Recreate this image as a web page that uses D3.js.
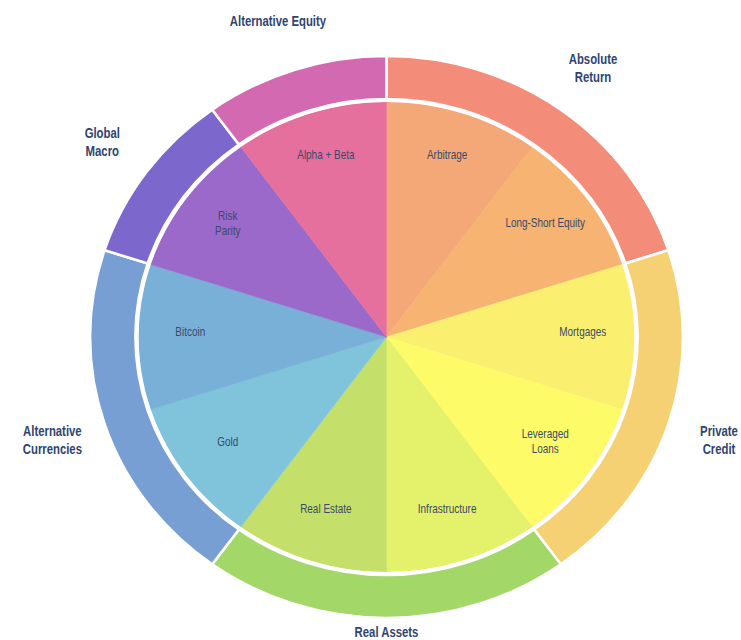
<!DOCTYPE html>
<html>
<head>
<meta charset="utf-8">
<script src="https://cdn.jsdelivr.net/npm/d3@7"></script>
<style>
  body { margin: 0; background: #fff; }
</style>
</head>
<body>
<div class="chart"></div>
<script>
// inner ring, clockwise from 12 o'clock
const strategies = ["Arbitrage", "Long-Short Equity", "Mortgages", "Leveraged\nLoans", "Infrastructure",
  "Real Estate", "Gold", "Bitcoin", "Risk\nParity", "Alpha + Beta"];
const strategyGroup = ["Absolute Return", "Absolute Return", "Private Credit", "Private Credit", "Real Assets",
  "Real Assets", "Alternative Currencies", "Alternative Currencies", "Global Macro", "Alternative Equity"];
const strategyWeights = [1, 1, 1, 1, 1, 1, 1, 1, 1, 1];
const strategyColors = ["#f4a878", "#f6b371", "#fbef6f", "#fdfc68", "#e4f16a",
  "#c5e06a", "#80c4dc", "#79b0d7", "#9a69c9", "#e5709d"];

// outer ring
const groups = ["Absolute Return", "Private Credit", "Real Assets", "Alternative Currencies", "Global Macro", "Alternative Equity"];
const groupLabels = ["Absolute\nReturn", "Private\nCredit", "Real Assets", "Alternative\nCurrencies", "Global\nMacro", "Alternative  Equity"];
const groupColors = ["#f38c78", "#f6d173", "#a3d768", "#789fd3", "#7c68cd", "#d36ab1"];

const WIDTH = 741, HEIGHT = 640;
const cx = 386.5, cy = 337;
const stretch = 1.055;   // the original is slightly wider than tall
const innerR = 235, ringIn = 238, ringOut = 281;
const FONT = "'Liberation Sans', Arial, sans-serif";

const svg = d3.select(".chart").append("svg")
  .attr("width", WIDTH)
  .attr("height", HEIGHT);

const pie = d3.pie().sort(null).value(d => d.value);

const innerData = pie(strategies.map((s, i) => ({name: s, value: strategyWeights[i], color: strategyColors[i]})));
const groupTotals = groups.map(g => d3.sum(strategyWeights.filter((w, i) => strategyGroup[i] === g)));
const outerData = pie(groups.map((g, i) => ({name: groupLabels[i], value: groupTotals[i], color: groupColors[i]})));

const plot = svg.append("g")
  .attr("transform", `translate(${cx},${cy}) scale(${stretch},1)`);

const innerArc = d3.arc().innerRadius(0).outerRadius(innerR);
const outerArc = d3.arc().innerRadius(ringIn).outerRadius(ringOut);

plot.selectAll("path.slice")
  .data(innerData)
  .enter().append("path")
  .attr("class", "slice")
  .attr("d", innerArc)
  .attr("fill", d => d.data.color)
  .attr("stroke", d => d.data.color)
  .attr("stroke-width", 0.5);

plot.append("circle")
  .attr("r", innerR + 1.2)
  .attr("fill", "none")
  .attr("stroke", "#fff")
  .attr("stroke-width", 2.6)
  .attr("vector-effect", "non-scaling-stroke");

plot.selectAll("path.ring")
  .data(outerData)
  .enter().append("path")
  .attr("class", "ring")
  .attr("d", outerArc)
  .attr("fill", d => d.data.color)
  .attr("stroke", "#fff")
  .attr("stroke-width", 2.6)
  .attr("vector-effect", "non-scaling-stroke");

function polar(angle, r) {
  return [cx + stretch * r * Math.sin(angle), cy - r * Math.cos(angle)];
}

// condensed look: no narrow font is installed, so squeeze horizontally
function label(x, y, text, size, lineH, bold, squeeze) {
  const lines = text.split("\n");
  const t = svg.append("text")
    .attr("transform", `translate(${x},${y}) scale(${squeeze},1)`)
    .attr("text-anchor", "middle")
    .attr("dominant-baseline", "central")
    .attr("font-family", FONT)
    .attr("font-size", size)
    .attr("font-weight", bold ? "bold" : "normal")
    .attr("fill", bold ? "#2f4470" : "#3b4a68");
  lines.forEach((l, i) => {
    t.append("tspan")
      .attr("x", 0)
      .attr("y", (i - (lines.length - 1) / 2) * lineH)
      .text(l);
  });
}

innerData.forEach(d => {
  const [x, y] = polar((d.startAngle + d.endAngle) / 2, 186);
  label(x, y - 5, d.data.name, 12, 15, false, 0.83);
});

outerData.forEach(d => {
  let [x, y] = polar((d.startAngle + d.endAngle) / 2, 333);
  y = Math.min(y, HEIGHT - 8);
  x = Math.max(30, Math.min(x, WIDTH - 22));
  label(x, y, d.data.name, 14, 18, true, 0.81);
});
</script>
</body>
</html>
